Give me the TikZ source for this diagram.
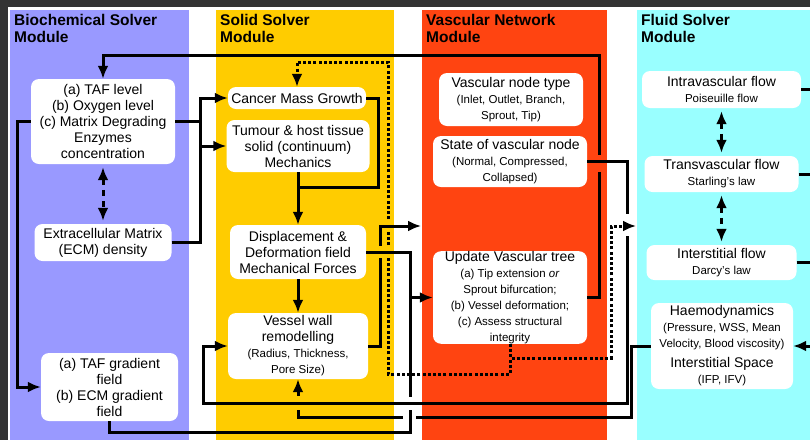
\documentclass[tikz,border=0pt]{standalone}
\usepackage{fontspec}
\setmainfont{Liberation Sans}
\usetikzlibrary{arrows.meta}

\definecolor{biocol}{HTML}{9999FF}
\definecolor{solcol}{HTML}{FFCC00}
\definecolor{vascol}{HTML}{FF4411}
\definecolor{flucol}{HTML}{99FFFF}
\definecolor{framecol}{HTML}{333333}

\newcommand\mainfs{\fontsize{14}{16}\selectfont}
\newcommand\subfs{\fontsize{11.5}{13.5}\selectfont}
\newcommand\titlefs{\fontsize{15.5}{17}\selectfont\bfseries}

\tikzset{
  box/.style={fill=white, rounded corners=8pt, align=center, inner sep=0pt, font=\mainfs},
  modtitle/.style={anchor=north west, align=left, inner sep=0pt, font=\titlefs},
  conn/.style={line width=3pt},
  tip/.style={-{Latex[length=13pt,width=11pt]}},
  dotline/.style={line width=3pt, dash pattern=on 3pt off 2.2pt},
  dashline/.style={line width=3pt, dash pattern=on 6pt off 5pt,
    {Latex[length=13pt,width=11pt]}-{Latex[length=13pt,width=11pt]},
    shorten <=3pt, shorten >=3pt},
}

\begin{document}
\begin{tikzpicture}[x=1pt, y=-1pt]
\useasboundingbox (0,0) rectangle (810,440);
% page frame and module columns
\fill[framecol] (0,0) rectangle (810,440);
\fill[white] (8,7) rectangle (810,440);
\fill[biocol] (10,9.5) rectangle (189,440);
\fill[solcol] (216,9.5) rectangle (394,440);
\fill[vascol] (422,9.5) rectangle (607,440);
\fill[flucol] (637,9.5) rectangle (810,440);

\node[modtitle] (tbio) at (14,14.5) {Biochemical Solver\\Module};
\node[modtitle] (tsol) at (220,14.5) {Solid Solver\\Module};
\node[modtitle] (tvas) at (426,14.5) {Vascular Network\\Module};
\node[modtitle] (tflu) at (641,14.5) {Fluid Solver\\Module};

% biochemical solver
\node[box, minimum width=144pt, minimum height=85pt] (taf) at (103,121.5)
  {(a) TAF level\\(b) Oxygen level\\(c) Matrix Degrading\\Enzymes\\concentration};
\node[box, minimum width=137pt, minimum height=37pt] (ecm) at (103,242.5)
  {Extracellular Matrix\\(ECM) density};
\node[box, minimum width=137pt, minimum height=68pt] (grad) at (109.5,387)
  {(a) TAF gradient\\field\\(b) ECM gradient\\field};

% solid solver
\node[box, minimum width=138pt, minimum height=22pt] (cmg) at (297,98)
  {Cancer Mass Growth};
\node[box, minimum width=143pt, minimum height=52pt] (tum) at (298,146)
  {Tumour \& host tissue\\solid (continuum)\\Mechanics};
\node[box, minimum width=136pt, minimum height=54pt] (disp) at (298,252)
  {Displacement \&\\Deformation field\\Mechanical Forces};
\node[box, minimum width=140pt, minimum height=66pt] (vwr) at (298,346)
  {Vessel wall\\remodelling\\\subfs (Radius, Thickness,\\\subfs Pore Size)};

% vascular network
\node[box, minimum width=144pt, minimum height=53pt] (vnt) at (511,99.5)
  {Vascular node type\\\subfs (Inlet, Outlet, Branch,\\\subfs Sprout, Tip)};
\node[box, minimum width=154pt, minimum height=51pt] (svn) at (510,161.5)
  {State of vascular node\\\subfs (Normal, Compressed,\\\subfs Collapsed)};
\node[box, minimum width=154pt, minimum height=89pt] (uvt) at (510,297.5)
  {Update Vascular tree\\\subfs (a) Tip extension \emph{or}\\\subfs Sprout bifurcation;\\\subfs (b) Vessel deformation;\\\subfs (c) Assess structural\\\subfs integrity};

% fluid solver
\node[box, minimum width=159pt, minimum height=37pt] (intra) at (721.5,89.5)
  {Intravascular flow\\\subfs Poiseuille flow};
\node[box, minimum width=154pt, minimum height=36pt] (trans) at (721.5,174)
  {Transvascular flow\\\subfs Starling's law};
\node[box, minimum width=150pt, minimum height=35pt] (inter) at (721.5,262.5)
  {Interstitial flow\\\subfs Darcy's law};
\node[box, minimum width=142pt, minimum height=86pt] (haemo) at (722,346)
  {Haemodynamics\\\subfs (Pressure, WSS, Mean\\\subfs Velocity, Blood viscosity)\\[4pt]Interstitial Space\\\subfs (IFP, IFV)};

% helper points
\coordinate (bus) at (200,0);
\coordinate (merge) at (298,187);
\coordinate (vin) at (421,226);
\coordinate (fin) at (636,226);
\coordinate (e1) at (810,89.5);
\coordinate (e2) at (810,174);
\coordinate (e3) at (810,262.5);
\coordinate (e4) at (810,346);

% lines that pass underneath others
\draw[conn, tip] (uvt.east) -| (599,55) -| (taf.north);
\draw[dotline, tip] (uvt.south) |- (388,374) |- (297,62) -- (cmg.north);
\draw[conn, tip] (haemo.west) -| (631,417) -| (vwr.south);

% line hops
\fill[vascol] (596,155) rectangle (602,172);
\fill[solcol] (385,220) rectangle (391,232);
\fill[solcol] (385,246) rectangle (391,258);
\fill[white] (403,414) rectangle (416,420);
\fill[solcol] (295,396) rectangle (301,410);

\draw[conn, tip] (vwr.east) -- ++(12,0) |- (vin);
\fill[solcol] (377,246) rectangle (383,258);

\draw[conn] (grad.south) |- (410,432) -- (410,297.5);
\fill[white] (407,397) rectangle (413,410);

\draw[conn, tip] (disp.east) -| (410,297.5) -- (uvt.west);

\draw[conn, tip] (svn.east) -| (627,403) -- (203,403) |- (vwr.west);
\fill[white] (624,214) rectangle (630,236);

\draw[dotline, tip] (uvt.south) |- (611,358) |- (fin);

% biochemical links
\draw[conn, tip] (taf.west) -- ++(-13,0) |- (grad.west);
\draw[conn, tip] (ecm.east) -| (bus |- cmg.west) -- (cmg.west);
\draw[conn] (taf.east) -- (bus |- taf.east);
\draw[conn, tip] (bus |- tum.west) -- (tum.west);
\draw[dashline] (taf.south) -- (ecm.north);

% solid links
\draw[conn] (cmg.east) -- (378,98) -- (378,187) -- (merge);
\draw[conn, tip] (tum.south) -- (disp.north);
\draw[conn, tip] (disp.south) -- (vwr.north);

% fluid links
\draw[dashline] (intra.south) -- (trans.north);
\draw[dashline] (trans.south) -- (inter.north);
\draw[conn] (intra.east) -- (e1);
\draw[conn] (trans.east) -- (e2);
\draw[conn] (inter.east) -- (e3);
\draw[conn, tip] (e4) -- (haemo.east);
\end{tikzpicture}
\end{document}
